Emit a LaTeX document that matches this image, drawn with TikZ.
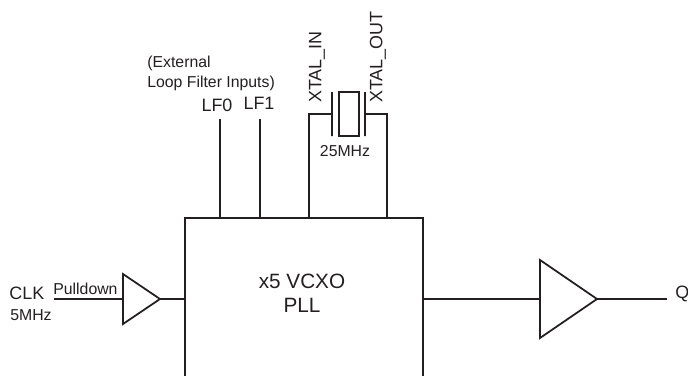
\documentclass[tikz,border=0pt]{standalone}
\usepackage{fontspec}
\setmainfont{Liberation Sans}
\usepackage{tikz}
\usetikzlibrary{positioning}
\usetikzlibrary{shapes.geometric}

\definecolor{inkline}{HTML}{231F20}

\tikzset{
    wire/.style={draw=inkline, line width=.8pt},
    buffer/.style={draw=inkline, line width=1pt, isosceles triangle,
        isosceles triangle stretches, inner sep=0pt, outer sep=0pt,
        shape border rotate=0, anchor=lower side},
    big/.style={inner sep=0pt, text=inkline, font=\fontsize{10.2}{12}\selectfont},
    small/.style={inner sep=0pt, text=inkline, font=\fontsize{9}{11.3}\selectfont},
}

\begin{document}
\begin{tikzpicture}[x=.02cm, y=-.02cm]

        \def\u{.02cm}

        % Page of the picture, the box runs off its lower edge
        \clip (0, 0) rectangle (688, 375);

        % Blocks
        \begin{scope}
            \node (PLL) [wire, rectangle, inner sep=0pt, outer sep=0pt,
                minimum width=238*\u, minimum height=180*\u,
                anchor=north west] at (185, 218) {};
            \node (PLLtext) [big, align=center,
                font=\fontsize{11.8}{13.6}\selectfont] at (302, 293)
            {x5 VCXO\\PLL};
            \node (BufIn) [buffer, minimum width=50*\u,
                minimum height=37*\u] at (123, 299) {};
            \node (BufOut) [buffer, minimum width=78*\u,
                minimum height=57*\u] at (540, 299) {};
        \end{scope}

        % Labels
        \begin{scope}
            \node (CLK) [big, anchor=west] at (9, 293) {CLK};
            \node (Clock) [small, anchor=west] at (10, 315) {5MHz};
            \node (Pulldown) [small, anchor=west] at (53, 289) {Pulldown};
            \node (Q) [big, anchor=west] at (675, 294) {Q};
            \node (Ext) [small, anchor=west] at (147, 63) {(External};
            \node (Loop) [small, anchor=west] at (147, 83) {Loop Filter Inputs)};
            \node (LF0) [big] at (217, 105) {LF0};
            \node (LF1) [big] at (259, 103) {LF1};
            \node (XIn) [big, rotate=90, anchor=west] at (317, 103) {XTAL\_IN};
            \node (XOut) [big, rotate=90, anchor=west] at (378, 103) {XTAL\_OUT};
            \node (Freq) [small] at (345, 151) {25MHz};
        \end{scope}

        % Crystal
        \begin{scope}
            \node (Xtal) [wire, rectangle, inner sep=0pt, outer sep=0pt,
                minimum width=20*\u, minimum height=44*\u] at (349, 114) {};
            \node (PlateL) [wire, rectangle, inner sep=0pt, outer sep=0pt,
                minimum width=0pt, minimum height=44*\u] at (332, 114) {};
            \node (PlateR) [wire, rectangle, inner sep=0pt, outer sep=0pt,
                minimum width=0pt, minimum height=44*\u] at (365, 114) {};
        \end{scope}

        % Free ends of the wires
        \coordinate (ClkEnd) at (54, 299);
        \coordinate (QEnd) at (667, 299);
        \coordinate (Pin0) at (220, 119);
        \coordinate (Pin1) at (260, 119);
        \coordinate (PinIn) at (309, 113);
        \coordinate (PinOut) at (387, 113);

        \begin{scope}[wire]
            \draw (ClkEnd) -- (BufIn.lower side);
            \draw (BufIn.apex) -- (BufIn.apex -| PLL.west);
            \draw (BufOut.lower side -| PLL.east) -- (BufOut.lower side);
            \draw (BufOut.apex) -- (QEnd);

            \foreach\x in {0,1}
            \draw (Pin\x) -- (Pin\x |- PLL.north);

            \draw (PlateL.west) -- (PlateL.west -| PinIn) -- (PinIn |- PLL.north);
            \draw (PlateR.east) -- (PlateR.east -| PinOut) -- (PinOut |- PLL.north);
        \end{scope}

\end{tikzpicture}
\end{document}
